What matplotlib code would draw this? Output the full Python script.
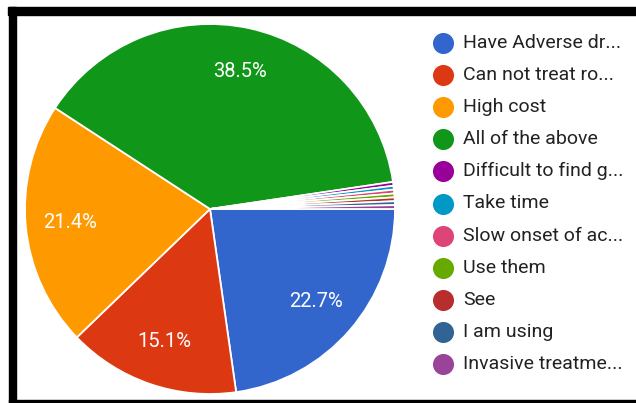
import matplotlib.pyplot as plt
from matplotlib.patches import Rectangle

labels = ['Have Adverse dr...', 'Can not treat ro...', 'High cost', 'All of the above',
          'Difficult to find g...', 'Take time', 'Slow onset of ac...', 'Use them',
          'See', 'I am using', 'Invasive treatme...']
counts = [68, 45, 64, 115, 1, 1, 1, 1, 1, 1, 1]
colors = ['#3366CC', '#DC3912', '#FF9900', '#109618', '#990099', '#0099C6',
          '#DD4477', '#66AA00', '#B82E2E', '#316395', '#994499']

plt.rcParams['font.family'] = ['Roboto', 'DejaVu Sans']

W, H = 636, 403
fig = plt.figure(figsize=(W / 100, H / 100), dpi=100)
ax = fig.add_axes([0, 0, 1, 1])
ax.set_xlim(0, W)
ax.set_ylim(0, H)
ax.axis('off')


def pct(p):
    return '%.1f%%' % p if p > 5 else ''


wedges, texts, autotexts = ax.pie(counts, colors=colors, center=(210, H - 209), radius=185,
                                  startangle=0, counterclock=False, autopct=pct,
                                  pctdistance=0.76,
                                  wedgeprops=dict(edgecolor='white', linewidth=1.3),
                                  textprops=dict(color='white', fontsize=14.5))
ax.set_xlim(0, W)
ax.set_ylim(0, H)
ax.set_aspect('equal')

# legend
for i, lab in enumerate(labels):
    y = H - (43 + i * 32.1)
    ax.scatter([443], [y], s=200, color=colors[i], zorder=3)
    ax.text(463, y, lab, fontsize=14, color='#222222', va='center', ha='left')

# black frame
fig.patches.append(Rectangle((8 / W, 1 - 15 / H), 1 - 8 / W, 8 / H, transform=fig.transFigure,
                             color='black', zorder=10))
fig.patches.append(Rectangle((9 / W, 0), 7 / W, 1 - 7 / H, transform=fig.transFigure,
                             color='black', zorder=10))
fig.patches.append(Rectangle((9 / W, 0), 1 - 9 / W, 3 / H, transform=fig.transFigure,
                             color='black', zorder=10))

fig.savefig('out.png', dpi=100, facecolor='white')
